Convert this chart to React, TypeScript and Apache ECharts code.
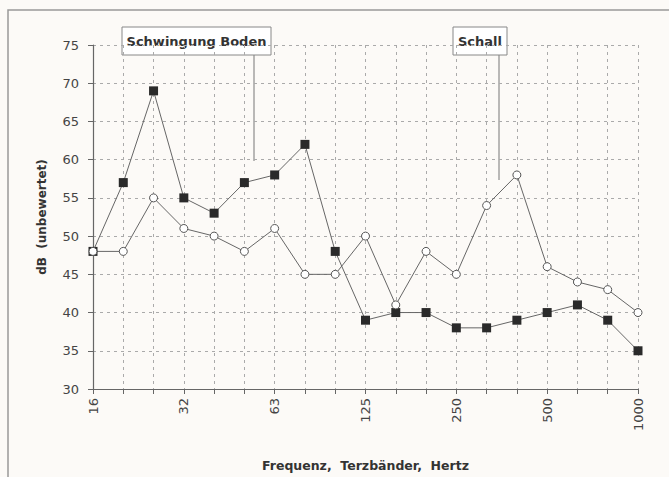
import React, { useEffect, useRef } from "react";
import * as echarts from "echarts";

const categories = ["16", "20", "25", "32", "40", "50", "63", "80", "100", "125", "160", "200", "250", "315", "400", "500", "630", "800", "1000"];
const boden = [48, 57, 69, 55, 53, 57, 58, 62, 48, 39, 40, 40, 38, 38, 39, 40, 41, 39, 35];
const schall = [48, 48, 55, 51, 50, 48, 51, 45, 45, 50, 41, 48, 45, 54, 58, 46, 44, 43, 40];
const yTicks = [30, 35, 40, 45, 50, 55, 60, 65, 70, 75];

export default function App() {
  const ref = useRef<HTMLDivElement>(null);
  useEffect(() => {
    const chart = echarts.init(ref.current!, null, { renderer: "svg" });
    const font = "DejaVu Sans, Verdana, sans-serif";
    chart.setOption({
      animation: false,
      backgroundColor: "#fcfaf7",
      grid: { left: 93, top: 45, right: 31, bottom: 86 },
      xAxis: {
        type: "category",
        data: categories,
        boundaryGap: false,
        name: "Frequenz,  Terzbänder,  Hertz",
        nameLocation: "middle",
        nameGap: 70,
        nameTextStyle: { fontFamily: font, fontWeight: "bold", fontSize: 12.5, color: "#333" },
        axisLine: { lineStyle: { color: "#666", width: 1.2 } },
        axisTick: { show: true, interval: 0, length: 5, lineStyle: { color: "#666" } },
        axisLabel: { interval: 2, rotate: 90, margin: 9, fontFamily: font, fontSize: 13, color: "#444" },
        splitLine: { show: true, interval: 0, lineStyle: { color: "#aaa", type: [3, 4], width: 1 } },
      },
      yAxis: {
        type: "value",
        min: yTicks[0],
        max: yTicks[yTicks.length - 1],
        interval: 5,
        name: "dB  (unbewertet)",
        nameLocation: "middle",
        nameGap: 45,
        nameTextStyle: { fontFamily: font, fontWeight: "bold", fontSize: 12, color: "#333" },
        axisLine: { show: true, lineStyle: { color: "#666", width: 1.2 } },
        axisTick: { show: true, length: 5, lineStyle: { color: "#666" } },
        axisLabel: { margin: 14, fontFamily: font, fontSize: 13, color: "#444" },
        splitLine: { show: true, lineStyle: { color: "#aaa", type: [3, 4], width: 1 } },
      },
      series: [
        {
          name: "Schwingung Boden",
          type: "line",
          data: boden,
          symbol: "rect",
          symbolSize: 9,
          lineStyle: { color: "#666", width: 1 },
          itemStyle: { color: "#2a2a2a", borderColor: "#2a2a2a", borderWidth: 0 },
        },
        {
          name: "Schall",
          type: "line",
          data: schall,
          symbol: "circle",
          symbolSize: 8,
          lineStyle: { color: "#666", width: 1 },
          itemStyle: { color: "#fff", borderColor: "#555", borderWidth: 1 },
        },
      ],
      graphic: [
        { type: "rect", shape: { x: 8, y: 10, width: 720, height: 520 }, style: { fill: "none", stroke: "#999", lineWidth: 1.5 }, silent: true },
        { type: "line", shape: { x1: 254, y1: 55, x2: 254, y2: 161 }, style: { stroke: "#777", lineWidth: 1 } },
        { type: "line", shape: { x1: 499, y1: 55, x2: 499, y2: 180 }, style: { stroke: "#777", lineWidth: 1 } },
        { type: "rect", shape: { x: 122, y: 27, width: 149, height: 28 }, style: { fill: "#fff", stroke: "#888", lineWidth: 1 } },
        { type: "rect", shape: { x: 453, y: 27, width: 54, height: 28 }, style: { fill: "#fff", stroke: "#888", lineWidth: 1 } },
        { type: "text", x: 196.5, y: 41, style: { text: "Schwingung Boden", fontFamily: font, fontWeight: "bold", fontSize: 13, fill: "#333", align: "center", verticalAlign: "middle" } },
        { type: "text", x: 480, y: 41, style: { text: "Schall", fontFamily: font, fontWeight: "bold", fontSize: 13, fill: "#333", align: "center", verticalAlign: "middle" } },
      ],
    });
    return () => chart.dispose();
  }, []);
  return <div ref={ref} style={{ width: 669, height: 477, position: "absolute", left: 0, top: 0 }} />;
}
